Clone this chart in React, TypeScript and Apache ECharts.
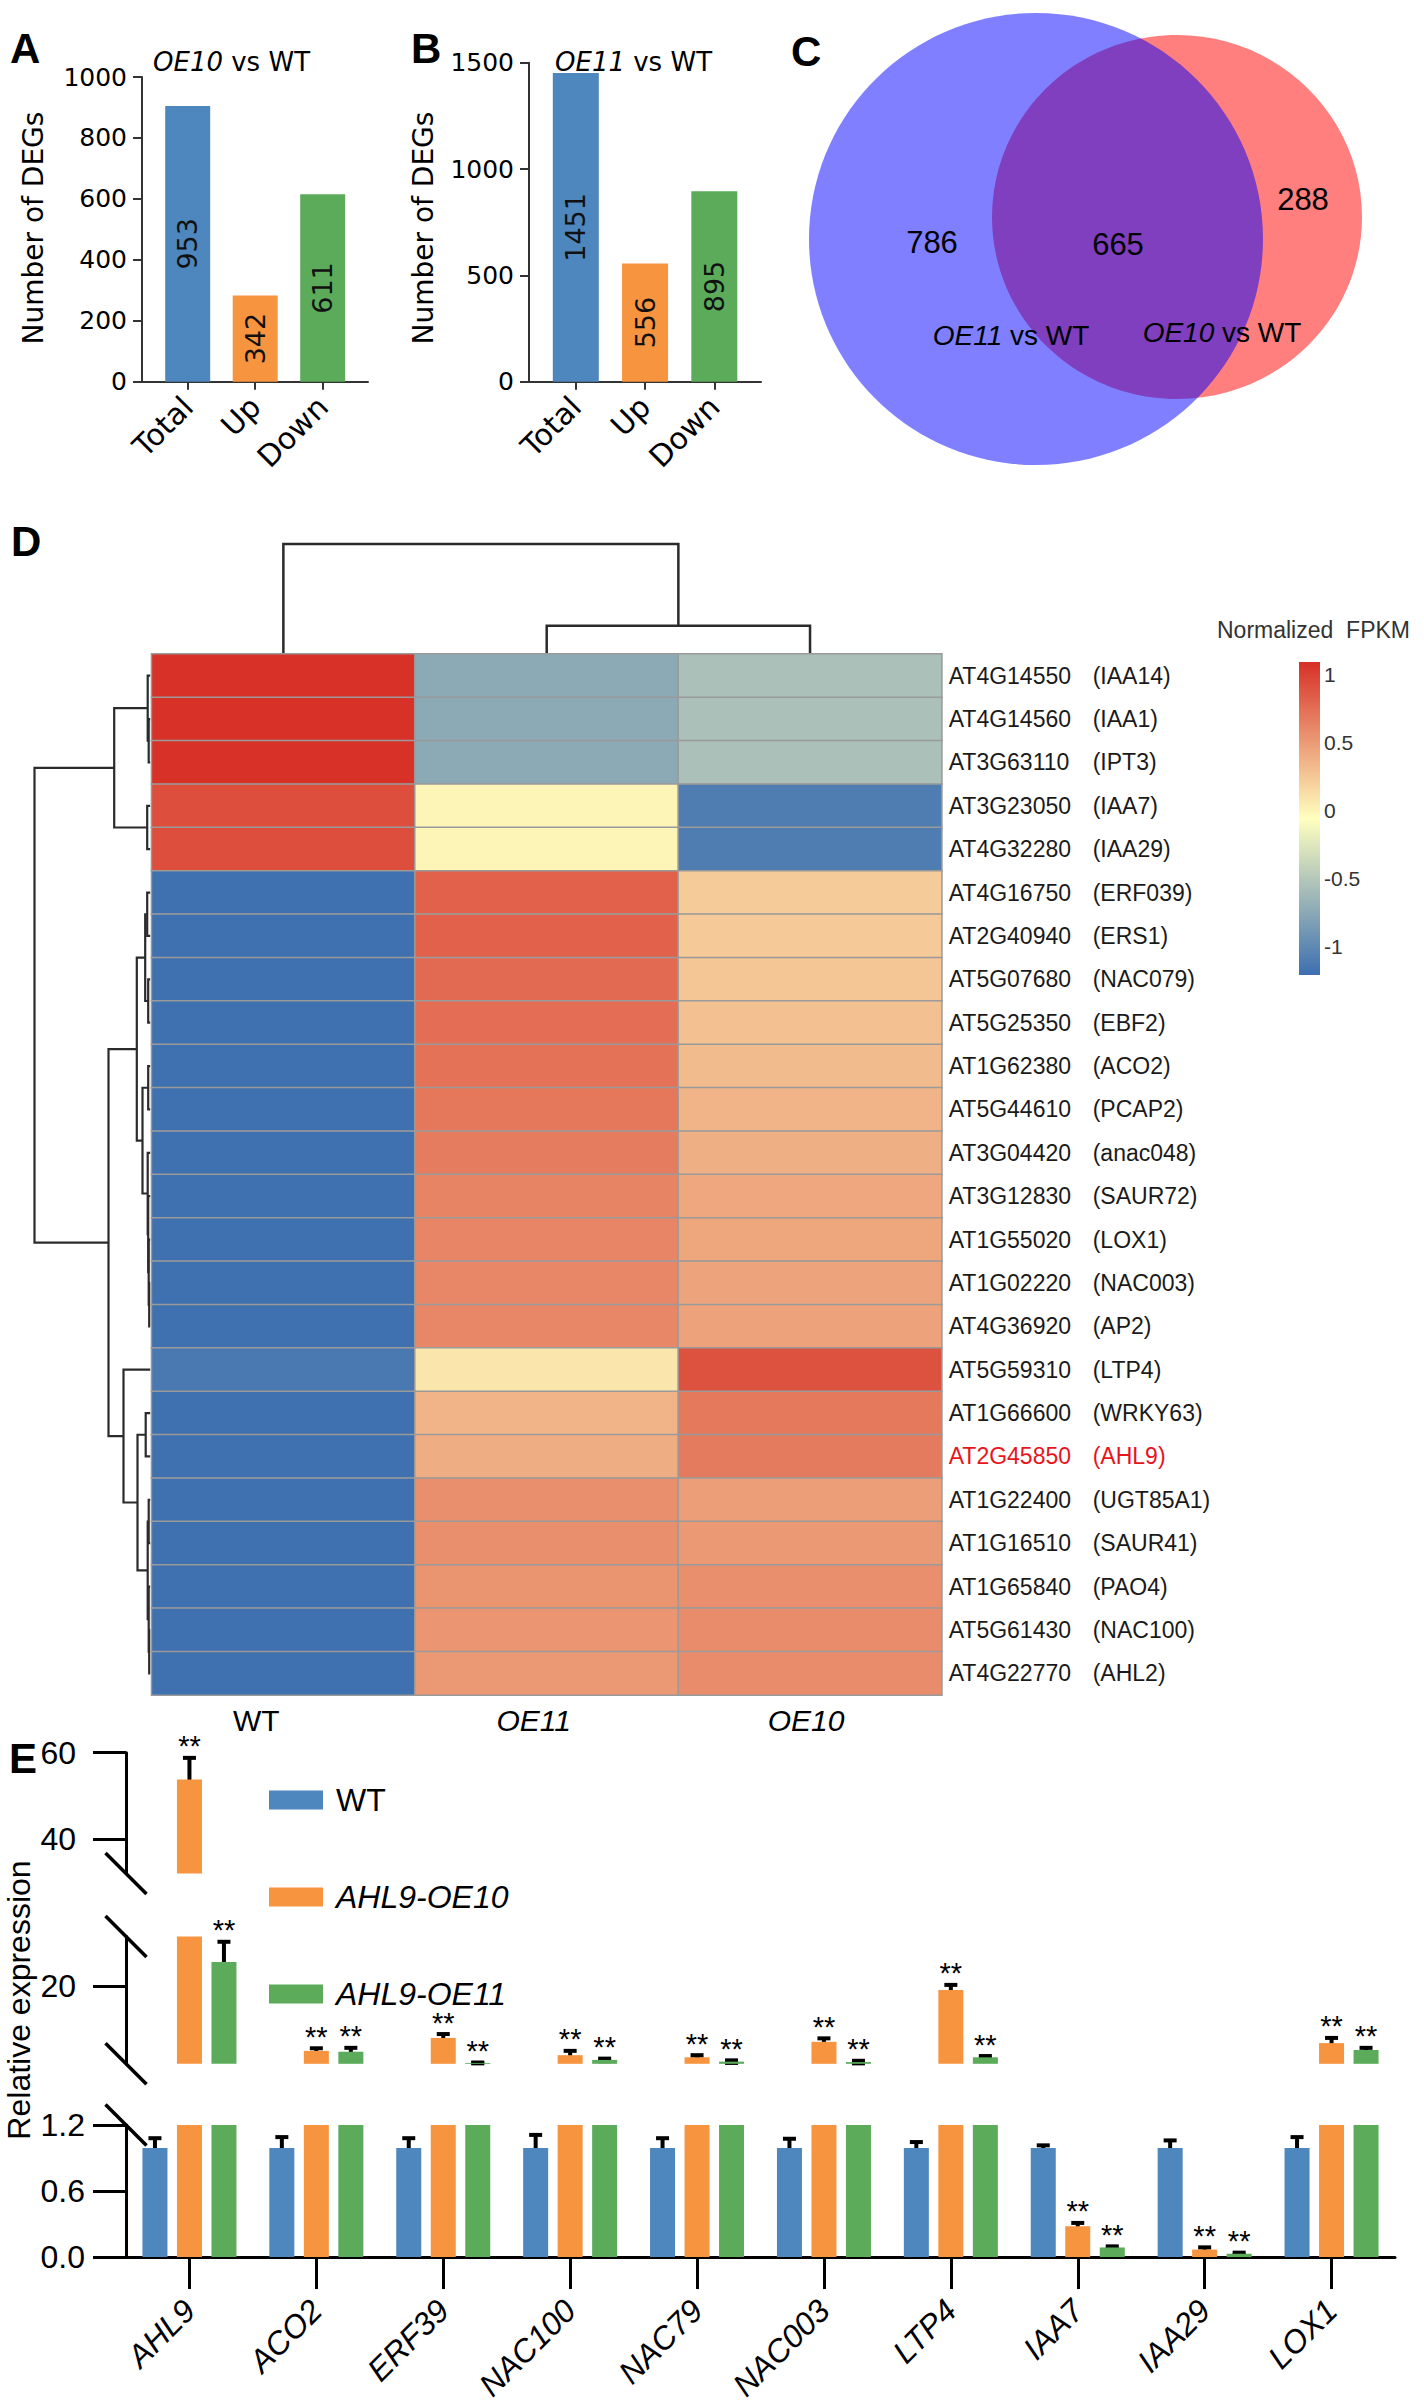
import React, { useEffect, useRef } from 'react';
import * as echarts from 'echarts';

const FONT = 'Liberation Sans';
const WIDE = 'DejaVu Sans';

// ---------- Panels A & B : number of DEGs ----------
const degCategories = ['Total', 'Up', 'Down'];
const degBarsOE10 = [905, 283, 615];
const degTextOE10 = ['953', '342', '611'];
const degBarsOE11 = [1451, 556, 895];
const degTextOE11 = ['1451', '556', '895'];
const degColors = ['#4E86BE', '#F7943F', '#5BAB5B'];

// ---------- Panel C : Venn counts ----------
const vennOnlyOE11 = 786;
const vennShared = 665;
const vennOnlyOE10 = 288;

// ---------- Panel D : heatmap ----------
const hmColumns = ['WT', 'OE11', 'OE10'];
const geneIds = ['AT4G14550', 'AT4G14560', 'AT3G63110', 'AT3G23050', 'AT4G32280', 'AT4G16750', 'AT2G40940', 'AT5G07680', 'AT5G25350', 'AT1G62380', 'AT5G44610', 'AT3G04420', 'AT3G12830', 'AT1G55020', 'AT1G02220', 'AT4G36920', 'AT5G59310', 'AT1G66600', 'AT2G45850', 'AT1G22400', 'AT1G16510', 'AT1G65840', 'AT5G61430', 'AT4G22770'];
const geneNames = ['IAA14', 'IAA1', 'IPT3', 'IAA7', 'IAA29', 'ERF039', 'ERS1', 'NAC079', 'EBF2', 'ACO2', 'PCAP2', 'anac048', 'SAUR72', 'LOX1', 'NAC003', 'AP2', 'LTP4', 'WRKY63', 'AHL9', 'UGT85A1', 'SAUR41', 'PAO4', 'NAC100', 'AHL2'];
const hmWT = [1.09, 1.09, 1.09, 0.93, 0.93, -1.2, -1.2, -1.2, -1.2, -1.2, -1.2, -1.2, -1.2, -1.2, -1.2, -1.2, -1.13, -1.2, -1.2, -1.2, -1.2, -1.2, -1.2, -1.2];
const hmOE11 = [-0.74, -0.74, -0.74, 0.0, 0.0, 0.82, 0.82, 0.77, 0.75, 0.73, 0.7, 0.67, 0.63, 0.62, 0.61, 0.61, 0.08, 0.36, 0.4, 0.565, 0.565, 0.54, 0.53, 0.51];
const hmOE10 = [-0.56, -0.56, -0.56, -1.1, -1.1, 0.23, 0.24, 0.26, 0.29, 0.32, 0.36, 0.39, 0.43, 0.44, 0.45, 0.46, 0.91, 0.69, 0.68, 0.48, 0.51, 0.565, 0.58, 0.58];
const highlightRow = 18;
const colorbarTicks = [-1, -0.5, 0, 0.5, 1];
const hmMin = -1.21;
const hmMax = 1.095;
const hmRamp = ['#3D6FB0', '#FFFFBF', '#D73027'];
// dendrograms: [childA, childB, merge height]
const rowMerges: [string, string, number][] = [
  ['r1', 'r2', 0.15], ['r0', 'm0', 0.25], ['r3', 'r4', 0.3], ['m1', 'm2', 3.6],
  ['r5', 'r6', 0.3], ['r7', 'r8', 0.2], ['m4', 'm5', 0.5], ['r9', 'r10', 0.2],
  ['r14', 'r15', 0.1], ['r13', 'm8', 0.15], ['r12', 'm9', 0.2], ['r11', 'm10', 0.25],
  ['m7', 'm11', 0.77], ['m6', 'm12', 1.34], ['r17', 'r18', 0.45], ['r19', 'r20', 0.15],
  ['r22', 'r23', 0.1], ['r21', 'm16', 0.15], ['m15', 'm17', 0.25], ['m14', 'm18', 1.27],
  ['r16', 'm19', 2.67], ['m13', 'm20', 4.17], ['m3', 'm21', 11.57],
];
const colMerges: [string, string, number][] = [['r1', 'r2', 2.83], ['r0', 'm0', 11.0]];

// ---------- Panel E : qRT-PCR ----------
const qGenes = ['AHL9', 'ACO2', 'ERF39', 'NAC100', 'NAC79', 'NAC003', 'LTP4', 'IAA7', 'IAA29', 'LOX1'];
const qSeriesNames = ['WT', 'AHL9-OE10', 'AHL9-OE11'];
const qColors = ['#4E86BE', '#F7943F', '#5BAB5B'];
const qWT = [0.99, 0.99, 0.99, 0.99, 0.99, 0.99, 0.99, 0.99, 0.99, 0.99];
const qWTErr = [0.09, 0.1, 0.09, 0.12, 0.09, 0.085, 0.055, 0.025, 0.07, 0.1];
const qOE10 = [53.8, 4.9, 7.9, 3.9, 3.4, 7.0, 19.0, 0.28, 0.068, 6.7];
const qOE10Err = [5.0, 0.6, 0.9, 1.0, 0.5, 0.8, 1.2, 0.03, 0.02, 1.2];
const qOE11 = [25.5, 4.7, 2.1, 2.8, 2.4, 2.3, 3.4, 0.087, 0.03, 5.1];
const qOE11Err = [4.7, 0.9, 0.1, 0.3, 0.3, 0.3, 0.3, 0.01, 0.01, 0.5];
const eUpperTicks = [40, 60];
const eMiddleTicks = [20];

// ---------- layout ----------
const GA = { left: 142, top: 77, width: 226, height: 304.7 };
const GB = { left: 529, top: 62.7, width: 232, height: 319 };
const HM = { left: 151.7, top: 654, width: 790, height: 1041 };
const CB = { left: 1299, top: 662, width: 21, height: 313 };
const EX = { left: 126, width: 1269 };
const EU = { top: 1752.7, height: 120.7, min: 32, max: 60 };
const EM = { top: 1936.6, height: 127.2, min: 1.9, max: 31.4 };
const EL = { top: 2125, height: 141, min: 0, max: 1.2 };
const BAR_W = 25;
const BAR_STEP = 34.5;
const DENDRO_PX = 10;

function degXAxis(gi: number, min: number, max: number) {
  return {
    type: 'value', gridIndex: gi, min, max,
    axisLine: { show: true, onZero: false, lineStyle: { color: '#333', width: 2 } },
    axisTick: { show: true, customValues: [0, 1, 2], length: 8, lineStyle: { color: '#333', width: 2 } },
    axisLabel: {
      customValues: [0, 1, 2], formatter: (v: number) => degCategories[Math.round(v)] ?? '',
      rotate: 45, fontFamily: WIDE, fontSize: 30, color: '#000', margin: 20,
    },
    splitLine: { show: false },
  };
}
function degYAxis(gi: number, max: number, interval: number) {
  return {
    type: 'value', gridIndex: gi, min: 0, max, interval,
    axisLine: { show: true, onZero: false, lineStyle: { color: '#333', width: 2 } },
    axisTick: { show: true, length: 9, lineStyle: { color: '#333', width: 2 } },
    axisLabel: { fontFamily: WIDE, fontSize: 25, color: '#000', margin: 15, formatter: (v: number) => String(v) },
    splitLine: { show: false },
  };
}
function degSeries(gi: number, vals: number[], texts: string[], w: number) {
  return {
    type: 'bar', xAxisIndex: gi, yAxisIndex: gi, barWidth: w, silent: true,
    data: vals.map((v, i) => ({ value: [i, v], itemStyle: { color: degColors[i] } })),
    label: {
      show: true, position: 'inside', rotate: 90, formatter: (p: any) => texts[p.dataIndex],
      fontFamily: WIDE, fontSize: 27, color: '#111',
    },
  };
}
function eYAxis(gi: number, r: any, extra: any, margin: number) {
  return {
    type: 'value', gridIndex: gi, min: r.min, max: r.max, ...(extra.interval ? { interval: extra.interval } : {}),
    axisLine: { show: true, onZero: false, lineStyle: { color: '#000', width: 3 } },
    axisTick: { show: true, length: 33, lineStyle: { color: '#000', width: 3 }, ...(extra.tickValues ? { customValues: extra.tickValues } : {}) },
    axisLabel: { fontSize: 32, color: '#000', margin, ...(extra.tickValues ? { customValues: extra.tickValues } : {}), formatter: extra.fmt || ((v: number) => String(v)) },
    splitLine: { show: false },
  };
}

function buildOption() {
  const gradient = new echarts.graphic.LinearGradient(0, 0, 0, 1, [
    { offset: 0, color: hmRamp[2] }, { offset: 0.5, color: hmRamp[1] }, { offset: 1, color: hmRamp[0] },
  ]);
  const heatData: number[][] = [];
  geneIds.forEach((_, r) => {
    heatData.push([0, r, hmWT[r]], [1, r, hmOE11[r]], [2, r, hmOE10[r]]);
  });
  const qVals = [qWT, qOE10, qOE11];
  const qErrs = [qWTErr, qOE10Err, qOE11Err];
  const errData: number[][] = [];
  qGenes.forEach((_, ci) => { for (let si = 0; si < 3; si++) errData.push([ci, si, qVals[si][ci], qErrs[si][ci]]); });

  const eRanges = [EU, EM, EL];
  const series: any[] = [
    degSeries(0, degBarsOE10, degTextOE10, 45),
    degSeries(1, degBarsOE11, degTextOE11, 46),
    {
      type: 'heatmap', xAxisIndex: 2, yAxisIndex: 2, data: heatData, silent: true,
      itemStyle: { borderColor: '#9a9a9a', borderWidth: 1.5 }, emphasis: { disabled: true },
    },
  ];
  [4, 5, 6].forEach((gi) => {
    qSeriesNames.forEach((name, si) => {
      series.push({
        type: 'bar', name, xAxisIndex: gi, yAxisIndex: gi, barWidth: BAR_W, barGap: '38%',
        data: qVals[si], itemStyle: { color: qColors[si] }, silent: true, clip: true,
      });
    });
  });
  [4, 5, 6].forEach((gi, k) => {
    const r = eRanges[k];
    series.push({
      type: 'custom', xAxisIndex: gi, yAxisIndex: gi, data: errData, silent: true,
      encode: { x: 0, y: 2 },
      renderItem: (params: any, api: any) => {
        const ci = api.value(0), si = api.value(1), v = api.value(2), e = api.value(3);
        if (v < r.min || v > r.max) return null;
        const x = api.coord([ci, v])[0] + (si - 1) * BAR_STEP;
        const yt = api.coord([ci, v + e])[1];
        const yb = api.coord([ci, Math.max(v - e, r.min)])[1];
        const cap = 6.5;
        const st = { stroke: '#000', lineWidth: 4 };
        const ch: any[] = [
          { type: 'line', shape: { x1: x, y1: yt, x2: x, y2: yb }, style: st },
          { type: 'line', shape: { x1: x - cap, y1: yt, x2: x + cap, y2: yt }, style: st },
          { type: 'line', shape: { x1: x - cap, y1: yb, x2: x + cap, y2: yb }, style: st },
        ];
        if (si > 0) {
          ch.push({
            type: 'text', x, y: yt + 3,
            style: { text: '**', fontFamily: FONT, fontSize: 29, fill: '#000', align: 'center', verticalAlign: 'bottom', textAlign: 'center', textVerticalAlign: 'bottom' },
          });
        }
        return { type: 'group', children: ch };
      },
    });
  });

  return {
    animation: false,
    textStyle: { fontFamily: FONT },
    grid: [
      { ...GA }, { ...GB }, { ...HM },
      { ...CB, show: true, borderWidth: 0, backgroundColor: gradient },
      { left: EX.left, width: EX.width, top: EU.top, height: EU.height },
      { left: EX.left, width: EX.width, top: EM.top, height: EM.height },
      { left: EX.left, width: EX.width, top: EL.top, height: EL.height },
    ],
    xAxis: [
      degXAxis(0, -0.677, 2.671),
      degXAxis(1, -0.676, 2.674),
      {
        type: 'category', gridIndex: 2, data: hmColumns,
        axisLine: { show: false }, axisTick: { show: false },
        axisLabel: {
          margin: 10, fontSize: 30, color: '#000',
          formatter: (v: string, i: number) => `{c${i}|${v}}`,
          rich: {
            c0: { fontSize: 30, padding: [0, 54, 0, 0] },
            c1: { fontSize: 30, fontStyle: 'italic', padding: [0, 26, 0, 0] },
            c2: { fontSize: 30, fontStyle: 'italic', padding: [0, 8, 0, 0] },
          },
        },
      },
      { type: 'category', gridIndex: 3, data: ['bar'], show: false },
      { type: 'category', gridIndex: 4, data: qGenes, show: false },
      { type: 'category', gridIndex: 5, data: qGenes, show: false },
      {
        type: 'category', gridIndex: 6, data: qGenes,
        axisLine: { show: true, onZero: false, lineStyle: { color: '#000', width: 3 } },
        axisTick: { show: true, alignWithLabel: true, length: 32, lineStyle: { color: '#000', width: 3 } },
        axisLabel: { rotate: 45, fontSize: 32, fontStyle: 'italic', color: '#000', margin: 48, interval: 0 },
      },
    ],
    yAxis: [
      degYAxis(0, 1000, 200),
      degYAxis(1, 1500, 500),
      {
        type: 'category', gridIndex: 2, data: geneIds, inverse: true, position: 'right',
        axisLine: { show: false }, axisTick: { show: false },
        axisLabel: {
          margin: 7, interval: 0,
          formatter: (v: string, i: number) => i === highlightRow ? `{ir|${v}}{gr|(${geneNames[i]})}` : `{i|${v}}{g|(${geneNames[i]})}`,
          rich: {
            i: { width: 144, fontSize: 23, color: '#1a1a1a' },
            g: { fontSize: 23, color: '#1a1a1a' },
            ir: { width: 144, fontSize: 23, color: '#E8141B' },
            gr: { fontSize: 23, color: '#E8141B' },
          },
        },
      },
      {
        type: 'value', gridIndex: 3, min: hmMin, max: hmMax, position: 'right',
        axisLine: { show: false }, axisTick: { show: false }, splitLine: { show: false },
        axisLabel: { customValues: colorbarTicks, formatter: (v: number) => String(v), fontSize: 21, color: '#333', margin: 4 },
      },
      eYAxis(4, EU, { tickValues: eUpperTicks }, 50),
      eYAxis(5, EM, { tickValues: eMiddleTicks }, 50),
      eYAxis(6, EL, { interval: 0.6, fmt: (v: number) => v.toFixed(1) }, 41),
    ],
    visualMap: [{
      type: 'continuous', show: false, min: hmMin, max: hmMax, seriesIndex: 2, dimension: 2,
      inRange: { color: hmRamp },
    }],
    legend: {
      data: qSeriesNames, orient: 'vertical', left: 264, top: 1775,
      itemWidth: 54, itemHeight: 19, itemGap: 57, icon: 'rect', selectedMode: false,
      formatter: (n: string) => n === 'WT' ? `{n|${n}}` : `{it|${n}}`,
      textStyle: {
        fontSize: 32, lineHeight: 40, color: '#000',
        rich: {
          n: { fontSize: 32, color: '#000', padding: [0, 0, 0, 8] },
          it: { fontSize: 32, fontStyle: 'italic', color: '#000', padding: [0, 0, 0, 8] },
        },
      },
    },
    series,
  };
}

function txt(x: number, y: number, text: string, size: number, extra: any = {}, el: any = {}) {
  return {
    type: 'text', x, y, ...el,
    style: {
      text, fontSize: size, fontFamily: FONT, fill: '#000',
      align: 'left', verticalAlign: 'middle', textAlign: 'left', textVerticalAlign: 'middle', ...extra,
    },
  };
}

function dendroSegments(merges: [string, string, number][], leafPos: (i: number) => number) {
  const pos: Record<string, number> = {};
  const hgt: Record<string, number> = {};
  const get = (id: string): [number, number] => {
    if (id[0] === 'm') return [pos[id], hgt[id]];
    return [leafPos(parseInt(id.slice(1), 10)), 0];
  };
  return merges.map(([a, b, h], k) => {
    const [pa, ha] = get(a);
    const [pb, hb] = get(b);
    pos['m' + k] = (pa + pb) / 2;
    hgt['m' + k] = h;
    return { pa, ha, pb, hb, hm: h };
  });
}

function buildGraphic(chart: any) {
  const g: any[] = [];
  const lineStyle = { stroke: '#2b2b2b', lineWidth: 2.2, fill: 'none' };
  // panel letters
  const letters: [string, number, number][] = [['A', 10, 48], ['B', 411, 48], ['C', 791, 51], ['D', 11, 541], ['E', 9, 1758]];
  letters.forEach(([t, x, y]) => g.push(txt(x, y, t, 42, { fontWeight: 'bold' })));
  // A / B titles
  const richI = { i: { fontStyle: 'italic', fontSize: 26, fontFamily: WIDE } };
  g.push(txt(153, 62, '{i|OE10} vs WT', 26, { fontFamily: WIDE, rich: richI }));
  g.push(txt(555, 62, '{i|OE11} vs WT', 26, { fontFamily: WIDE, rich: richI }));
  g.push(txt(33, 228, 'Number of DEGs', 28, { fontFamily: WIDE, align: 'center', textAlign: 'center' }, { rotation: Math.PI / 2 }));
  g.push(txt(423, 228, 'Number of DEGs', 28, { fontFamily: WIDE, align: 'center', textAlign: 'center' }, { rotation: Math.PI / 2 }));
  // Venn
  g.push({ type: 'ellipse', shape: { cx: 1177, cy: 217, rx: 185, ry: 182 }, style: { fill: 'rgba(255,0,0,0.5)' } });
  g.push({ type: 'ellipse', shape: { cx: 1036, cy: 239, rx: 227, ry: 226 }, style: { fill: 'rgba(0,0,255,0.5)' } });
  const cc = { align: 'center', textAlign: 'center' };
  g.push(txt(932, 242, String(vennOnlyOE11), 31, cc));
  g.push(txt(1118, 244, String(vennShared), 31, cc));
  g.push(txt(1303, 199, String(vennOnlyOE10), 31, cc));
  const richV = { i: { fontStyle: 'italic', fontSize: 28, fontFamily: FONT } };
  g.push(txt(1011, 335, '{i|OE11} vs WT', 28, { ...cc, rich: richV }));
  g.push(txt(1222, 332, '{i|OE10} vs WT', 28, { ...cc, rich: richV }));
  // heatmap dendrograms
  const rowSegs = dendroSegments(rowMerges, (i) => chart.convertToPixel({ xAxisIndex: 2, yAxisIndex: 2 }, [0, i])[1]);
  const rx0 = HM.left - 1.5;
  rowSegs.forEach((s) => {
    g.push({
      type: 'polyline', silent: true, style: lineStyle,
      shape: { points: [[rx0 - s.ha * DENDRO_PX, s.pa], [rx0 - s.hm * DENDRO_PX, s.pa], [rx0 - s.hm * DENDRO_PX, s.pb], [rx0 - s.hb * DENDRO_PX, s.pb]] },
    });
  });
  const colSegs = dendroSegments(colMerges, (i) => chart.convertToPixel({ xAxisIndex: 2, yAxisIndex: 2 }, [i, 0])[0]);
  const cy0 = HM.top;
  colSegs.forEach((s) => {
    g.push({
      type: 'polyline', silent: true, style: { ...lineStyle, lineWidth: 2.5 },
      shape: { points: [[s.pa, cy0 - s.ha * DENDRO_PX], [s.pa, cy0 - s.hm * DENDRO_PX], [s.pb, cy0 - s.hm * DENDRO_PX], [s.pb, cy0 - s.hb * DENDRO_PX]] },
    });
  });
  g.push(txt(1217, 630, 'Normalized  FPKM', 23, { fill: '#333' }));
  // panel E decorations
  g.push(txt(19, 2000, 'Relative expression', 32, cc, { rotation: Math.PI / 2 }));
  const edges = [EU.top + EU.height, EM.top, EM.top + EM.height, EL.top];
  edges.forEach((y) => {
    g.push({ type: 'line', silent: true, shape: { x1: EX.left - 20.5, y1: y - 20.5, x2: EX.left + 20.5, y2: y + 20.5 }, style: { stroke: '#000', lineWidth: 3.5 } });
  });
  return g;
}

export default function App() {
  const ref = useRef<HTMLDivElement>(null);
  useEffect(() => {
    const chart = echarts.init(ref.current!, null, { renderer: 'svg' });
    chart.setOption(buildOption() as any);
    chart.setOption({ graphic: buildGraphic(chart) } as any);
    return () => chart.dispose();
  }, []);
  return <div ref={ref} style={{ position: 'absolute', left: 0, top: 0, width: 1424, height: 2404, background: '#fff' }} />;
}
